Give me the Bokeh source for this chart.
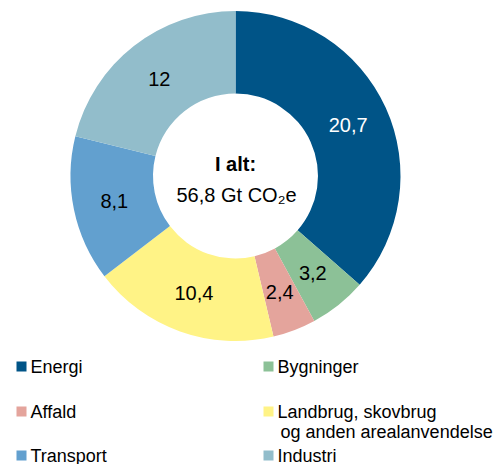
import math
from bokeh.plotting import figure
from bokeh.models import Range1d, ColumnDataSource
from bokeh.core.properties import value
from bokeh.embed import file_html
from bokeh.resources import INLINE

categories = ["Energi", "Bygninger", "Affald", "Landbrug, skovbrug\nog anden arealanvendelse", "Transport", "Industri"]
values = [20.7, 3.2, 2.4, 10.4, 8.1, 12.0]
value_labels = ["20,7", "3,2", "2,4", "10,4", "8,1", "12"]
colors = ["#005487", "#8cc197", "#e4a49c", "#fff386", "#62a0cf", "#92bdcb"]
label_colors = ["white", "black", "black", "black", "black", "black"]
total_title = "I alt:"
total_label = "56,8 Gt CO\u2082e"
legend_order = [0, 1, 2, 3, 4, 5]

FONT = value("Liberation Sans")
W, H = 498, 464
p = figure(width=W, height=H, output_backend="svg", toolbar_location=None,
           x_range=Range1d(0, W), y_range=Range1d(0, H), min_border=0)
p.axis.visible = False
p.grid.visible = False
p.outline_line_color = None
p.background_fill_color = "white"

def sy(y):
    return H - y

cx, cy = 235.0, sy(175.5)
r_out, r_in = 165.0, 82.5
tot = sum(values)
starts, ends, lx, ly = [], [], [], []
cum = 0.0
for v in values:
    a0 = math.pi / 2 - 2 * math.pi * cum / tot
    a1 = math.pi / 2 - 2 * math.pi * (cum + v) / tot
    starts.append(a0)
    ends.append(a1)
    mid = (a0 + a1) / 2
    rm = (r_in + r_out) / 2
    lx.append(cx + rm * math.cos(mid))
    ly.append(cy + rm * math.sin(mid))
    cum += v

src = ColumnDataSource(dict(start=starts, end=ends, color=colors, lx=lx, ly=ly,
                            lab=value_labels, lc=label_colors))
p.annular_wedge(x=cx, y=cy, inner_radius=r_in, outer_radius=r_out,
                start_angle="start", end_angle="end", direction="clock",
                fill_color="color", line_color=None, source=src,
                inner_radius_units="screen", outer_radius_units="screen")
p.text(x="lx", y="ly", text="lab", text_color="lc", source=src,
       text_font=FONT, text_font_size="20px", text_align="center", text_baseline="middle")

p.text(x=[cx], y=[sy(163)], text=[total_title], text_font=FONT, text_font_size="20px",
       text_font_style="bold", text_align="center", text_baseline="middle", text_color="black")
p.text(x=[cx + 1], y=[sy(194)], text=[total_label], text_font=FONT, text_font_size="20px",
       text_align="center", text_baseline="middle", text_color="black")

# legend
col_x = [21, 268]
row_y = [366, 411, 455]
mx, my, mc, tx, ty, tt = [], [], [], [], [], []
for i, idx in enumerate(legend_order):
    c = i % 2
    r = i // 2
    mx.append(col_x[c]); my.append(sy(row_y[r])); mc.append(colors[idx])
    lines = categories[idx].split("\n")
    for j, line in enumerate(lines):
        tx.append(col_x[c] + 9 + (3 if j > 0 else 0)); ty.append(sy(row_y[r] + 20 * j)); tt.append(line)
p.scatter(x=mx, y=my, marker="square", size=10, fill_color=mc, line_color=None)
p.text(x=tx, y=ty, text=tt, text_font=FONT, text_font_size="18px",
       text_align="left", text_baseline="middle", text_color="black")

open("out.html", "w").write(file_html(p, INLINE))
